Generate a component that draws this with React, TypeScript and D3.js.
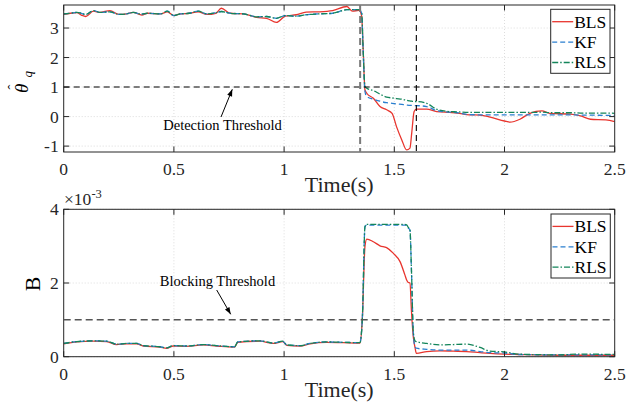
import { useRef, useEffect } from "react";
import * as d3 from "d3";

const W = 641;
const H = 414;
const FONT = "Liberation Serif, Times New Roman, serif";

const COLORS = { BLS: "#e8352e", KF: "#2a7fd0", RLS: "#13855a" };

// top panel: estimated theta_q
const T_TOP = [0, 0.03, 0.06, 0.08, 0.1, 0.135, 0.165, 0.21, 0.25, 0.285, 0.315, 0.355, 0.38, 0.44, 0.47, 0.5, 0.53, 0.57, 0.61, 0.65, 0.69, 0.715, 0.755, 0.815, 0.875, 0.92, 0.965, 1.005, 1.055, 1.1, 1.16, 1.22, 1.285, 1.31, 1.34, 1.352, 1.358, 1.367, 1.375, 1.405, 1.435, 1.465, 1.49, 1.51, 1.534, 1.556, 1.571, 1.579, 1.59, 1.6, 1.647, 1.692, 1.75, 1.785, 1.84, 1.89, 1.935, 2.0, 2.025, 2.07, 2.115, 2.17, 2.205, 2.3, 2.345, 2.39, 2.46, 2.5];
const BLS_TOP = [3.46, 3.5, 3.52, 3.44, 3.39, 3.57, 3.53, 3.59, 3.46, 3.48, 3.53, 3.44, 3.5, 3.48, 3.55, 3.42, 3.48, 3.5, 3.55, 3.46, 3.5, 3.67, 3.5, 3.48, 3.36, 3.33, 3.19, 3.4, 3.45, 3.54, 3.55, 3.59, 3.73, 3.57, 3.6, 3.4, 2.4, 0.9, 0.79, 0.62, 0.34, 0.23, 0.11, -0.34, -0.79, -1.13, -1.07, -0.56, 0.17, 0.25, 0.25, 0.17, 0.14, 0.12, 0.06, 0.05, -0.02, -0.15, -0.19, -0.09, 0.11, 0.19, 0.11, 0.08, 0.02, -0.09, -0.11, -0.17];
const KF_TOP = [3.48, 3.5, 3.53, 3.5, 3.46, 3.59, 3.53, 3.55, 3.46, 3.48, 3.53, 3.47, 3.5, 3.48, 3.57, 3.42, 3.48, 3.5, 3.57, 3.48, 3.52, 3.56, 3.5, 3.48, 3.38, 3.39, 3.33, 3.42, 3.4, 3.45, 3.48, 3.5, 3.62, 3.62, 3.62, 3.5, 2.4, 0.85, 0.68, 0.59, 0.52, 0.47, 0.45, 0.43, 0.41, 0.39, 0.38, 0.38, 0.37, 0.37, 0.34, 0.2, 0.15, 0.13, 0.07, 0.06, 0.06, 0.06, 0.06, 0.06, 0.06, 0.06, 0.06, 0.06, 0.05, 0.05, 0.04, 0.04];
const RLS_TOP = [3.48, 3.5, 3.53, 3.5, 3.46, 3.59, 3.53, 3.55, 3.46, 3.48, 3.53, 3.47, 3.5, 3.48, 3.57, 3.42, 3.48, 3.5, 3.57, 3.48, 3.52, 3.56, 3.5, 3.48, 3.38, 3.39, 3.33, 3.42, 3.4, 3.45, 3.48, 3.5, 3.62, 3.62, 3.62, 3.5, 2.4, 1.02, 0.96, 0.88, 0.76, 0.66, 0.63, 0.61, 0.59, 0.55, 0.53, 0.52, 0.51, 0.51, 0.45, 0.25, 0.17, 0.16, 0.14, 0.14, 0.14, 0.14, 0.14, 0.14, 0.14, 0.15, 0.13, 0.13, 0.12, 0.12, 0.12, 0.11];

// bottom panel: B (x 1e-3)
const T_BOT = [0, 0.06, 0.134, 0.195, 0.24, 0.286, 0.331, 0.361, 0.437, 0.467, 0.497, 0.558, 0.633, 0.694, 0.775, 0.79, 0.89, 0.951, 0.994, 1.012, 1.072, 1.118, 1.193, 1.269, 1.344, 1.355, 1.367, 1.375, 1.405, 1.435, 1.465, 1.495, 1.526, 1.548, 1.556, 1.562, 1.571, 1.578, 1.586, 1.594, 1.6, 1.647, 1.707, 1.767, 1.828, 1.889, 1.934, 2.0, 2.063, 2.25, 2.34, 2.5];
const BLS_BOT = [0.35, 0.4, 0.42, 0.41, 0.33, 0.35, 0.35, 0.29, 0.26, 0.23, 0.29, 0.28, 0.32, 0.29, 0.26, 0.39, 0.42, 0.36, 0.41, 0.31, 0.29, 0.35, 0.39, 0.38, 0.37, 1.04, 3.0, 3.19, 3.12, 3.01, 2.96, 2.81, 2.58, 2.22, 2.08, 2.02, 2.0, 1.22, 0.55, 0.25, 0.09, 0.14, 0.16, 0.15, 0.14, 0.11, 0.09, 0.07, 0.06, 0.04, 0.04, 0.04];
const KF_BOT = [0.36, 0.41, 0.43, 0.42, 0.34, 0.36, 0.36, 0.3, 0.27, 0.24, 0.3, 0.29, 0.33, 0.3, 0.27, 0.4, 0.43, 0.37, 0.42, 0.32, 0.3, 0.36, 0.4, 0.39, 0.38, 1.04, 3.53, 3.57, 3.57, 3.57, 3.57, 3.57, 3.57, 3.57, 3.56, 3.5, 3.44, 2.31, 0.68, 0.27, 0.23, 0.2, 0.18, 0.18, 0.18, 0.14, 0.11, 0.1, 0.06, 0.05, 0.05, 0.05];
const RLS_BOT = [0.36, 0.41, 0.43, 0.42, 0.34, 0.36, 0.36, 0.3, 0.27, 0.24, 0.3, 0.29, 0.33, 0.3, 0.27, 0.4, 0.43, 0.37, 0.42, 0.32, 0.3, 0.36, 0.4, 0.39, 0.38, 1.04, 3.53, 3.59, 3.59, 3.59, 3.59, 3.59, 3.59, 3.59, 3.58, 3.52, 3.44, 2.31, 0.7, 0.43, 0.41, 0.36, 0.32, 0.33, 0.34, 0.25, 0.15, 0.13, 0.07, 0.05, 0.07, 0.06];

const X_TICKS = [0, 0.5, 1, 1.5, 2, 2.5];
const TOP_Y_TICKS = [-1, 0, 1, 2, 3];
const BOT_Y_TICKS = [0, 2, 4];

const ATTACK_TIME = 1.345;
const DETECT_TIME = 1.6;
const DETECT_LEVEL = 1;
const BLOCK_LEVEL = 1;

const LEGEND = [
  { key: "BLS", label: "BLS", dash: "" },
  { key: "KF", label: "KF", dash: "5,3" },
  { key: "RLS", label: "RLS", dash: "6,2,1.5,2" },
];

function fmt(v) {
  return String(v).replace("−", "-");
}

function drawPanel(svg, x, y, yTicks, series) {
  const [x0, x1] = x.range();
  const [y1, y0] = y.range();
  const g = svg.append("g");

  // grid
  g.selectAll(".gx").data(X_TICKS.slice(1, -1)).join("line")
    .attr("x1", (d) => x(d)).attr("x2", (d) => x(d))
    .attr("y1", y0).attr("y2", y1)
    .attr("stroke", "#d4d4d4").attr("stroke-dasharray", "1,2").attr("stroke-width", 0.8);
  g.selectAll(".gy").data(yTicks).join("line")
    .attr("x1", x0).attr("x2", x1)
    .attr("y1", (d) => y(d)).attr("y2", (d) => y(d))
    .attr("stroke", "#d4d4d4").attr("stroke-dasharray", "1,2").attr("stroke-width", 0.8);

  const clipId = "clip" + Math.round(y0);
  svg.append("clipPath").attr("id", clipId).append("rect")
    .attr("x", x0).attr("y", y0).attr("width", x1 - x0).attr("height", y1 - y0);

  const lines = g.append("g").attr("clip-path", `url(#${clipId})`);
  series.forEach((s) => {
    const line = d3.line().x((d) => x(d[0])).y((d) => y(d[1])).curve(d3.curveMonotoneX);
    lines.append("path")
      .datum(s.t.map((t, i) => [t, s.v[i]]))
      .attr("fill", "none")
      .attr("stroke", s.color)
      .attr("stroke-width", 1.3)
      .attr("stroke-dasharray", s.dash)
      .attr("d", line);
  });

  // box
  g.append("rect").attr("x", x0).attr("y", y0).attr("width", x1 - x0).attr("height", y1 - y0)
    .attr("fill", "none").attr("stroke", "#262626").attr("stroke-width", 1);

  // inward ticks on all sides
  const tl = 5.5;
  X_TICKS.forEach((t) => {
    g.append("line").attr("x1", x(t)).attr("x2", x(t)).attr("y1", y1).attr("y2", y1 - tl).attr("stroke", "#262626");
    g.append("line").attr("x1", x(t)).attr("x2", x(t)).attr("y1", y0).attr("y2", y0 + tl).attr("stroke", "#262626");
    g.append("text").attr("x", x(t)).attr("y", y1 + 23).attr("text-anchor", "middle")
      .attr("font-family", FONT).attr("font-size", 17.5).attr("fill", "#262626").text(fmt(t));
  });
  yTicks.forEach((t) => {
    g.append("line").attr("x1", x0).attr("x2", x0 + tl).attr("y1", y(t)).attr("y2", y(t)).attr("stroke", "#262626");
    g.append("line").attr("x1", x1).attr("x2", x1 - tl).attr("y1", y(t)).attr("y2", y(t)).attr("stroke", "#262626");
    g.append("text").attr("x", x0 - 5).attr("y", y(t) + 6).attr("text-anchor", "end")
      .attr("font-family", FONT).attr("font-size", 17.5).attr("fill", "#262626").text(fmt(t));
  });

  g.append("text").attr("x", (x0 + x1) / 2).attr("y", y1 + 40).attr("text-anchor", "middle")
    .attr("font-family", FONT).attr("font-size", 22).attr("fill", "#262626").text("Time(s)");

  return g;
}

function drawLegend(svg, lx, ly) {
  const g = svg.append("g").attr("transform", `translate(${lx},${ly})`);
  g.append("rect").attr("width", 59.3).attr("height", 64).attr("fill", "white")
    .attr("stroke", "#262626").attr("stroke-width", 1);
  LEGEND.forEach((l, i) => {
    const cy = 12.4 + i * 20.4;
    g.append("line").attr("x1", 1.5).attr("x2", 22.5).attr("y1", cy).attr("y2", cy)
      .attr("stroke", COLORS[l.key]).attr("stroke-width", 1.3).attr("stroke-dasharray", l.dash);
    g.append("text").attr("x", 23.5).attr("y", cy + 6).attr("font-family", FONT)
      .attr("font-size", 17.5).attr("fill", "#000").text(l.label);
  });
}

function arrow(svg, x1, y1, x2, y2) {
  svg.append("line").attr("x1", x1).attr("y1", y1).attr("x2", x2).attr("y2", y2)
    .attr("stroke", "#000").attr("stroke-width", 1);
  const ang = Math.atan2(y2 - y1, x2 - x1);
  const len = 7, half = 2.6;
  const bx = x2 - len * Math.cos(ang), by = y2 - len * Math.sin(ang);
  const pts = [
    [x2, y2],
    [bx + half * Math.sin(ang), by - half * Math.cos(ang)],
    [bx - half * Math.sin(ang), by + half * Math.cos(ang)],
  ];
  svg.append("polygon").attr("points", pts.map((p) => p.join(",")).join(" ")).attr("fill", "#000");
}

export default function App() {
  const svgRef = useRef(null);

  useEffect(() => {
    const svg = d3.select(svgRef.current);
    svg.selectAll("*").remove();

    const x = d3.scaleLinear().domain([0, 2.5]).range([63.7, 614.7]);
    const yTop = d3.scaleLinear().domain([-1.2, 3.78]).range([152, 5]);
    const yBot = d3.scaleLinear().domain([0, 4]).range([356.7, 209.3]);

    // ---- top panel ----
    drawPanel(svg, x, yTop, TOP_Y_TICKS, [
      { t: T_TOP, v: BLS_TOP, color: COLORS.BLS, dash: "" },
      { t: T_TOP, v: KF_TOP, color: COLORS.KF, dash: "5,3" },
      { t: T_TOP, v: RLS_TOP, color: COLORS.RLS, dash: "6,2,1.5,2" },
    ]);

    svg.append("line").attr("x1", 63.7).attr("x2", 614.7)
      .attr("y1", yTop(DETECT_LEVEL)).attr("y2", yTop(DETECT_LEVEL))
      .attr("stroke", "#000").attr("stroke-width", 1.1).attr("stroke-dasharray", "6,4");
    svg.append("line").attr("x1", x(ATTACK_TIME)).attr("x2", x(ATTACK_TIME)).attr("y1", 5).attr("y2", 152)
      .attr("stroke", "#7a7a7a").attr("stroke-width", 2).attr("stroke-dasharray", "7,4");
    svg.append("line").attr("x1", x(DETECT_TIME)).attr("x2", x(DETECT_TIME)).attr("y1", 5).attr("y2", 152)
      .attr("stroke", "#000").attr("stroke-width", 1.1).attr("stroke-dasharray", "6,4");

    svg.append("text").attr("x", 222.5).attr("y", 130).attr("text-anchor", "middle")
      .attr("font-family", FONT).attr("font-size", 14.5).text("Detection Threshold");
    arrow(svg, 221, 117, 232.3, 89.3);

    drawLegend(svg, 550.7, 9.3);

    // theta-hat_q label
    const yl = svg.append("g").attr("transform", "translate(28,80) rotate(-90)")
      .attr("font-family", FONT).attr("fill", "#000");
    yl.append("text").attr("x", -13).attr("y", 0).attr("font-style", "italic").attr("font-size", 19).text("θ");
    yl.append("text").attr("x", -9.5).attr("y", -10).attr("font-size", 15).text("ˆ");
    yl.append("text").attr("x", 2.5).attr("y", 4).attr("font-style", "italic").attr("font-size", 13).text("q");

    // ---- bottom panel ----
    drawPanel(svg, x, yBot, BOT_Y_TICKS, [
      { t: T_BOT, v: BLS_BOT, color: COLORS.BLS, dash: "" },
      { t: T_BOT, v: KF_BOT, color: COLORS.KF, dash: "5,3" },
      { t: T_BOT, v: RLS_BOT, color: COLORS.RLS, dash: "6,2,1.5,2" },
    ]);

    svg.append("line").attr("x1", 63.7).attr("x2", 614.7)
      .attr("y1", yBot(BLOCK_LEVEL)).attr("y2", yBot(BLOCK_LEVEL))
      .attr("stroke", "#555").attr("stroke-width", 1.5).attr("stroke-dasharray", "7,4");

    svg.append("text").attr("x", 217.5).attr("y", 286).attr("text-anchor", "middle")
      .attr("font-family", FONT).attr("font-size", 14.5).text("Blocking Threshold");
    arrow(svg, 216.7, 290, 230.7, 314.3);

    drawLegend(svg, 551, 214);

    svg.append("text").attr("x", 40).attr("y", 284).attr("transform", "rotate(-90,40,284)")
      .attr("text-anchor", "middle").attr("font-family", FONT).attr("font-size", 22).text("B");

    const sc = svg.append("text").attr("x", 64).attr("y", 205).attr("font-family", FONT)
      .attr("font-size", 17.5).attr("fill", "#262626");
    sc.append("tspan").text("×10");
    sc.append("tspan").attr("dy", -7).attr("font-size", 12.5).text("-3");
  }, []);

  return (
    <svg
      ref={svgRef}
      width={W}
      height={H}
      style={{ position: "absolute", left: 0, top: 0, background: "white" }}
    />
  );
}
